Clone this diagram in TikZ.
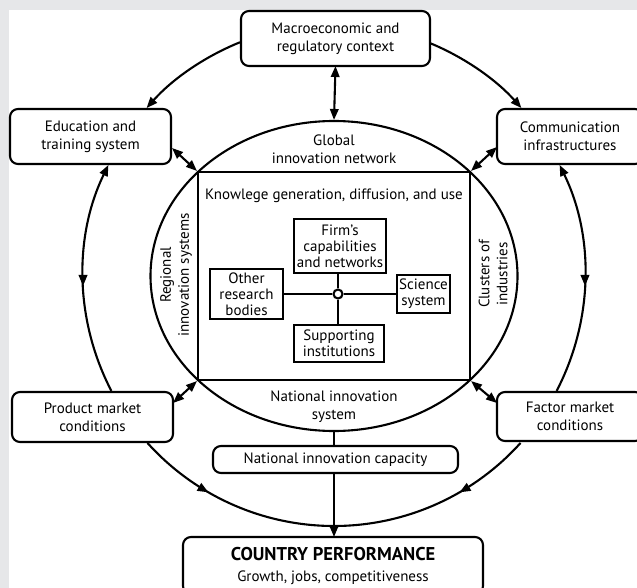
\documentclass[tikz,border=0pt]{standalone}
\usepackage{fontspec}
\setmainfont{PT Sans}
\usetikzlibrary{arrows.meta,calc,shapes.geometric,decorations.markings}
\definecolor{bggray}{HTML}{E6E7E9}
\begin{document}
\begin{tikzpicture}[x=1pt,y=-1pt,
  font=\fontsize{15}{18}\selectfont,
  >={Triangle[length=11pt,width=8.5pt]},
  ln/.style={line width=2.1pt},
  rbox/.style={draw, line width=2.1pt, rounded corners=8pt, fill=white, align=center, inner sep=0pt, outer sep=0pt},
  sbox/.style={draw, line width=2.1pt, fill=white, align=center, inner sep=0pt, outer sep=0pt, font=\fontsize{15}{16}\selectfont},
  midarrow/.style={postaction={decorate}, decoration={markings, mark=at position #1 with {\arrow{>}}}},
  midarrowrev/.style={postaction={decorate}, decoration={markings, mark=at position #1 with {\arrow{<}}}},
]
\useasboundingbox (0,0) rectangle (637,588);
\clip (0,0) rectangle (637,588);
\fill[bggray] (0,0) rectangle (637,588);
\fill[white] (9,10) rectangle (637,588);

% outer boxes
\node[rbox, minimum width=189, minimum height=55] (macro) at (335.5,38.5) {Macroeconomic and\\regulatory context};
\node[rbox, minimum width=161, minimum height=55] (edu) at (90.5,136.5) {Education and\\training system};
\node[rbox, minimum width=146, minimum height=55] (comm) at (570,136.5) {Communication\\infrastructures};
\node[rbox, minimum width=161, minimum height=50] (prod) at (92.5,417) {Product market\\conditions};
\node[rbox, minimum width=146, minimum height=49] (fact) at (570,416.5) {Factor market\\conditions};
\node[rbox, minimum width=245, minimum height=27] (nic) at (335.5,459.5) {National innovation capacity};
\node[rbox, minimum width=300, minimum height=57] (country) at (333,565.5) {{\fontsize{18.5}{21}\selectfont\bfseries COUNTRY PERFORMANCE}\\[3pt]Growth, jobs, competitiveness};

% ellipse and square
\node[draw, ellipse, line width=2.1pt, minimum width=367, minimum height=310, inner sep=0pt] (ell) at (334,276) {};
\node[draw, line width=2.1pt, minimum width=272, minimum height=208, inner sep=0pt] (sq) at (334,276) {};

% labels
\node[align=center] (glob) at (334,149) {Global\\innovation network};
\node (know) at (334,196) {Knowlege generation, diffusion, and use};
\node[align=center, rotate=90] (reg) at (176,275) {Regional\\innovation systems};
\node[align=center, rotate=90] (clus) at (493,274) {Clusters of\\industries};
\node[align=center] (nis) at (334,406.5) {National innovation\\system};

% inner boxes
\node[sbox, minimum width=92, minimum height=54] (firm) at (340,246) {Firm’s\\capabilities\\and networks};
\node[sbox, minimum width=73, minimum height=50] (other) at (246.5,294) {Other\\research\\bodies};
\node[sbox, minimum width=53, minimum height=38] (sci) at (423.5,294) {Science\\system};
\node[sbox, minimum width=90, minimum height=37] (sup) at (339,343.5) {Supporting\\institutions};
\node[circle, draw, line width=2.1pt, fill=white, minimum size=9, inner sep=0pt] (hub) at (338,294) {};

\draw[ln] (hub) -- (hub |- firm.south);
\draw[ln] (hub) -- (other.east);
\draw[ln] (hub) -- (sci.west);
\draw[ln] (hub) -- (hub |- sup.north);

% double arrows
\draw[ln,<->] (macro.south) -- (ell.north);
\draw[ln,<->] ($(edu.south east)+(1,-16)$) -- (sq.north west);
\draw[ln,<->] ($(comm.south west)+(0,-17)$) -- (sq.north east);
\draw[ln,<->] ($(prod.north east)+(0,11)$) -- (sq.south west);
\draw[ln,<->] ($(fact.north west)+(0,11)$) -- (sq.south east);

% vertical
\draw[ln] (ell.south) -- (ell.south |- nic.north);
\draw[ln,->] (ell.south |- nic.south) -- (ell.south |- country.north);

% outer arcs
\coordinate (C) at (334,275);
\draw[ln,->] ($(C)+(-112:251)$) arc[start angle=-112, end angle=-138.3, radius=251];
\draw[ln,->] ($(C)+(-67.3:251)$) arc[start angle=-67.3, end angle=-41.7, radius=251];
\draw[ln,->,midarrowrev=0.514] ($(C)+(152.5:251)$) arc[start angle=152.5, end angle=206, radius=251];
\draw[ln,->,midarrowrev=0.514] ($(C)+(27.5:251)$) arc[start angle=27.5, end angle=-26, radius=251];
\draw[ln,midarrow=0.375] ($(C)+(138:251)$) arc[start angle=138, end angle=90, radius=251];
\draw[ln,midarrow=0.375] ($(C)+(42:251)$) arc[start angle=42, end angle=90, radius=251];
\end{tikzpicture}
\end{document}
